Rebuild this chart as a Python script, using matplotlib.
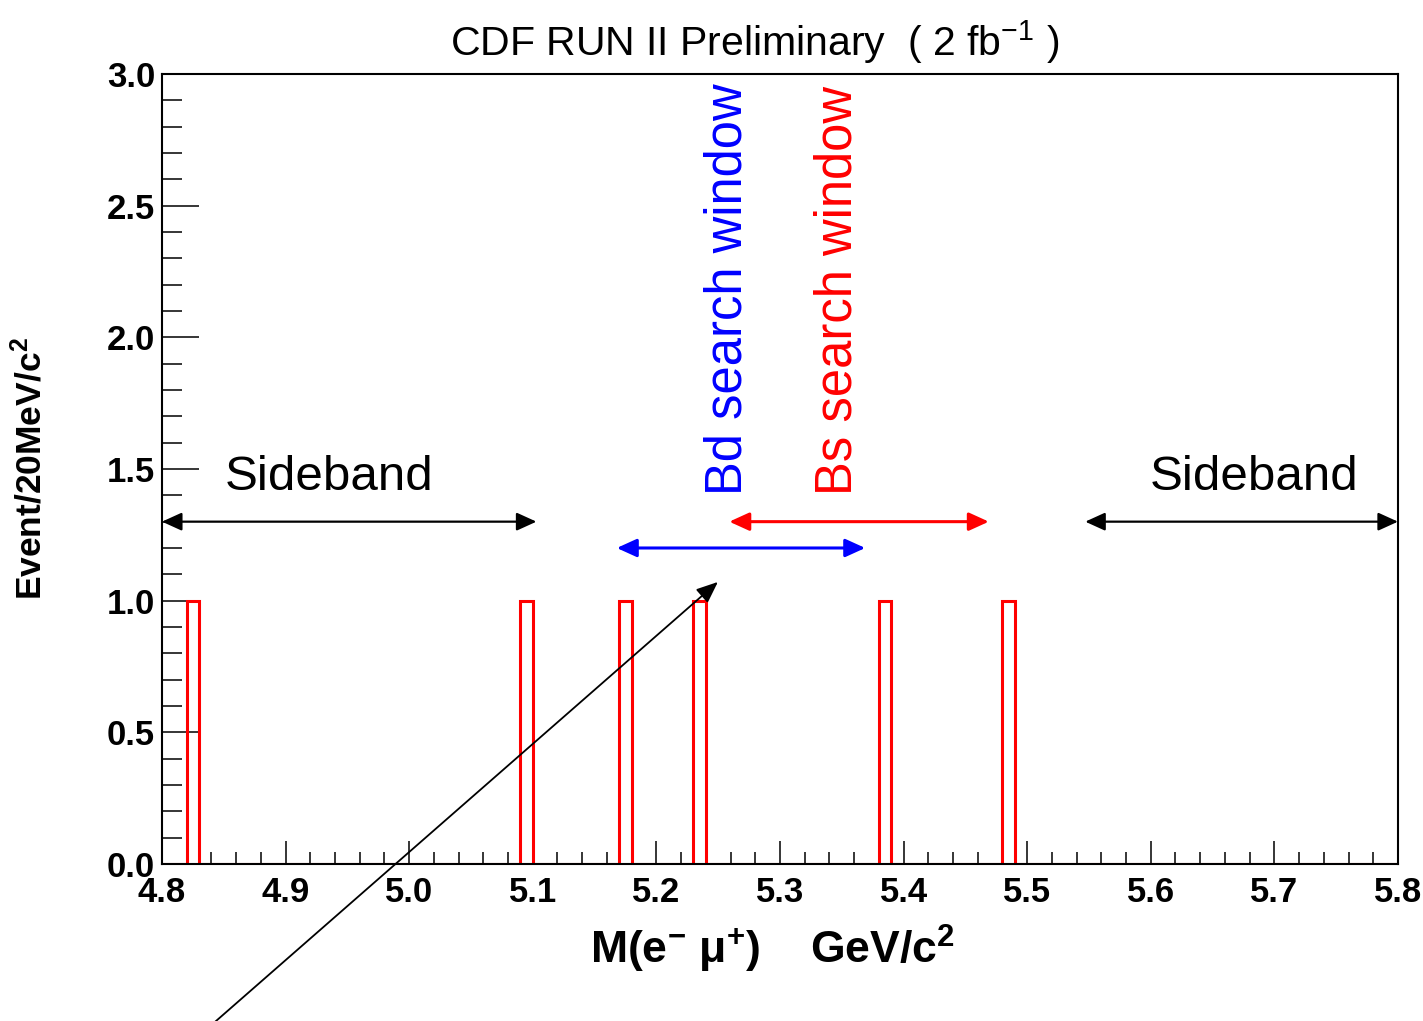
import numpy as np
import matplotlib
matplotlib.use("Agg")
import matplotlib.pyplot as plt
from matplotlib.ticker import MultipleLocator, FormatStrFormatter

plt.rcParams["font.family"] = ["Liberation Sans", "DejaVu Sans"]
plt.rcParams["mathtext.default"] = "regular"

# ---- data ---------------------------------------------------------------
mass_lo, mass_hi, bin_w = 4.8, 5.8, 0.01
events = [4.825, 5.095, 5.175, 5.235, 5.385, 5.485]      # one candidate each (GeV/c^2)

sideband_left = (4.80, 5.103)
sideband_right = (5.547, 5.80)
bd_window = (5.168, 5.369)
bs_window = (5.259, 5.469)
sideband_y, bd_y, bs_y = 1.3, 1.2, 1.3

edges = np.arange(mass_lo, mass_hi + bin_w / 2, bin_w)
counts, _ = np.histogram(events, bins=edges)

fig = plt.figure(figsize=(14.23, 10.21), dpi=100)
ax = fig.add_axes([0.1138, 0.1538, 0.9824 - 0.1138, 0.9275 - 0.1538])

ax.stairs(counts, edges, color="#ff0000", lw=2.2, zorder=2)

ax.set_xlim(mass_lo, mass_hi)
ax.set_ylim(0, 3.0)
ax.xaxis.set_major_locator(MultipleLocator(0.1))
ax.xaxis.set_minor_locator(MultipleLocator(0.02))
ax.yaxis.set_major_locator(MultipleLocator(0.5))
ax.yaxis.set_minor_locator(MultipleLocator(0.1))
ax.xaxis.set_major_formatter(FormatStrFormatter("%.1f"))
ax.yaxis.set_major_formatter(FormatStrFormatter("%.1f"))
ax.tick_params(axis="x", which="major", direction="in", length=16.5, width=1.1, pad=9,
               labelsize=25)
ax.tick_params(axis="x", which="minor", direction="in", length=8.6, width=1.1)
ax.tick_params(axis="y", which="major", direction="in", length=26.5, width=1.1, pad=5,
               labelsize=25)
ax.tick_params(axis="y", which="minor", direction="in", length=14.4, width=1.1)
for lab in ax.get_xticklabels() + ax.get_yticklabels():
    lab.set_fontweight("bold")
for s in ax.spines.values():
    s.set_linewidth(1.5)

ax.set_xlabel("M(e$^{-}$ $\\mu^{+}$)    GeV/c$^{2}$", fontsize=32, fontweight="bold")
ax.xaxis.set_label_coords(0.494, -0.074)
ax.set_ylabel("Event/20MeV/c$^{2}$", fontsize=25.5, fontweight="bold")
ax.yaxis.set_label_coords(-0.092, 0.5)

fig.text(755 / 1423, 1 - 42 / 1021, "CDF RUN II Preliminary  ( 2 fb$^{-1}$ )",
         fontsize=29.5, ha="center", va="center")

def span_arrow(x0, x1, y, color, lw):
    ax.annotate("", xy=(x1, y), xytext=(x0, y),
                arrowprops=dict(arrowstyle="<|-|>,head_length=0.55,head_width=0.25",
                                color=color, lw=lw, shrinkA=0, shrinkB=0,
                                mutation_scale=22),
                annotation_clip=False)

span_arrow(*sideband_left, sideband_y, "black", 1.6)
span_arrow(*sideband_right, sideband_y, "black", 1.6)
span_arrow(*bd_window, bd_y, "#0000ff", 2.2)
span_arrow(*bs_window, bs_y, "#ff0000", 2.2)

ax.text(4.935, 1.466, "Sideband", fontsize=35.5, ha="center", va="center")
ax.text(5.6835, 1.466, "Sideband", fontsize=35.5, ha="center", va="center")
ax.text(5.258, 1.401, "Bd search window", fontsize=36.5, color="#0000ff",
        rotation=90, ha="center", va="bottom")
ax.text(5.347, 1.401, "Bs search window", fontsize=36.5, color="#ff0000",
        rotation=90, ha="center", va="bottom")

# long pointer arrow running off the bottom of the canvas
ax.annotate("", xy=(5.2498, 1.071), xytext=(4.838, -0.62),
            arrowprops=dict(arrowstyle="-|>,head_length=0.6,head_width=0.25",
                            color="black", lw=1.3, shrinkA=0, shrinkB=0,
                            mutation_scale=22),
            annotation_clip=False)

fig.savefig("out.png", dpi=100)
